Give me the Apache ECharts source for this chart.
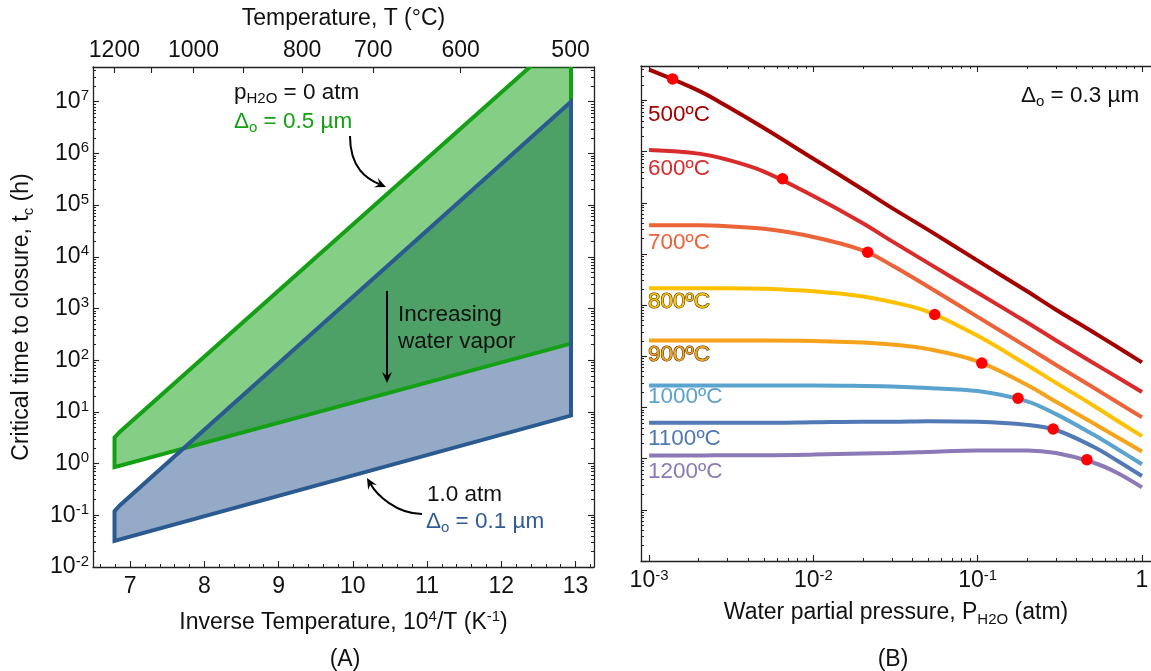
<!DOCTYPE html>
<html><head><meta charset="utf-8">
<script src="https://cdn.jsdelivr.net/npm/echarts@6/dist/echarts.min.js"></script>
<style>html,body{margin:0;padding:0;background:#fff}#c{width:1151px;height:671px}</style>
</head><body><div id="c"></div>
<script>
// ---------------- Panel A data ----------------
const invTempTicks = [7, 8, 9, 10, 11, 12, 13];              // 10^4/T (K^-1)
const tempLabels = [1200, 1000, 800, 700, 600, 500];          // °C (top axis labels)
const tempTicks = [1200, 1100, 1000, 900, 800, 700, 600, 500];
const timeTicks = [1e-2, 1e-1, 1, 1e1, 1e2, 1e3, 1e4, 1e5, 1e6, 1e7];
// region vertices: [10^4/T, t_c (h)]
const dryRegion = [[6.79, 0.85], [6.79, 3.2], [6.86, 4.1], [12.94, 2.4e8], [12.94, 210]];   // pH2O = 0 atm, Δo = 0.5 µm
const wetRegion = [[6.79, 0.032], [6.79, 0.12], [6.86, 0.155], [12.94, 1.0e7], [12.94, 8.5]]; // 1.0 atm, Δo = 0.1 µm

// ---------------- Panel B data ----------------
const pressureTicks = [1e-3, 1e-2, 1e-1, 1];
const pressure = [0.001, 0.002, 0.003, 0.005, 0.01, 0.02, 0.03, 0.05, 0.1, 0.2, 0.3, 0.5, 0.7, 1.0];
const t500 = [3.98e7, 1.55e7, 7.59e6, 2.88e6, 7.24e5, 1.82e5, 7.94e4, 2.95e4, 7.41e3, 1.86e3, 813, 302, 155, 75.9];
const t600 = [1.07e6, 9.12e5, 6.92e5, 4.07e5, 1.35e5, 3.98e4, 1.78e4, 6.61e3, 1.74e3, 457, 204, 75.9, 39.8, 20.0];
const t700 = [3.63e4, 3.63e4, 3.47e4, 3.09e4, 2.14e4, 1.17e4, 6.03e3, 2.29e3, 589, 151, 67.6, 25.1, 12.9, 6.46];
const t800 = [2140, 2140, 2140, 2090, 1860, 1480, 1150, 741, 251, 67.6, 30.2, 11.2, 5.62, 2.75];
const t900 = [204, 204, 204, 204, 200, 186, 170, 138, 79.4, 27.5, 12.9, 5.01, 2.69, 1.38];
const t1000 = [26.9, 26.9, 26.9, 26.9, 26.9, 26.3, 25.7, 24.0, 20.9, 13.2, 7.41, 3.02, 1.58, 0.776];
const t1100 = [5.01, 5.01, 5.01, 5.01, 5.13, 5.25, 5.25, 5.37, 5.25, 4.57, 3.63, 1.74, 0.933, 0.457];
const t1200 = [1.15, 1.15, 1.17, 1.17, 1.20, 1.26, 1.29, 1.35, 1.45, 1.45, 1.29, 0.851, 0.537, 0.275];
const curveNames = ['500ºC', '600ºC', '700ºC', '800ºC', '900ºC', '1000ºC', '1100ºC', '1200ºC'];
const curveTimes = [t500, t600, t700, t800, t900, t1000, t1100, t1200];
const transitionPoints = [[1.39e-3, 2.63e7], [6.49e-3, 2.95e5], [0.0214, 1.08e4], [0.0548, 656],
                          [0.106, 73.6], [0.176, 15.1], [0.288, 3.80], [0.462, 0.955]];

// ---------------- styling ----------------
const FONT = '"Liberation Sans", Arial, Helvetica, sans-serif';
const INK = '#111';
const FS = 23, FSS = 15;
const curveColors = ['#A50000', '#D92B2B', '#EC6339', '#FFC000', '#F7A21B', '#5BA3CF', '#5079B5', '#8C7AB8'];
const Y_MIN = 0.01, Y_MAX = 4.7e7;
const XA_MIN = 6.5, XA_MAX = 13.25;
const XB_MIN = 8.93e-4, XB_MAX = 1.135;

const toInv = T => 1e4 / (T + 273.15);
function logMinor(lo, hi, min, max) {
  const out = [];
  for (let e = lo; e <= hi; e++) for (let k = 2; k <= 9; k++) {
    const v = k * Math.pow(10, e); if (v > min && v < max) out.push(v);
  }
  return out;
}
const invMinor = [];
for (let k = 33; k <= 66; k++) if (k % 5 !== 0) invMinor.push(k / 5);

const tickRich = {
  b: {fontSize: FS, fontFamily: FONT, color: INK, lineHeight: 26},
  s: {fontSize: FSS, fontFamily: FONT, color: INK, lineHeight: 12, verticalAlign: 'top'}
};
const nameRich = {
  n: {fontSize: FS, fontFamily: FONT, color: INK, lineHeight: 28},
  sup: {fontSize: FSS, fontFamily: FONT, color: INK, lineHeight: 12, verticalAlign: 'top'},
  sub: {fontSize: FSS, fontFamily: FONT, color: INK, lineHeight: 12, verticalAlign: 'bottom'}
};
const line = {show: true, lineStyle: {color: '#222', width: 1.3}};
const noLine = {show: false};
function majorTick(vals) { return {show: true, inside: true, length: 6, customValues: vals, lineStyle: {color: '#222', width: 1.1}}; }
function minorTick(vals) { return {show: true, inside: true, length: 3, customValues: vals, lineStyle: {color: '#222', width: 1}}; }
const noLabel = {show: false};

const chart = echarts.init(document.getElementById('c'), null, {renderer: 'canvas'});

const leftYMinor = logMinor(-2, 7, Y_MIN, Y_MAX);
const rightXMinor = logMinor(-4, 0, XB_MIN, XB_MAX);

const option = {
  animation: false,
  backgroundColor: '#fff',
  grid: [
    {left: 93, top: 67, width: 501, height: 500, containLabel: false, outerBoundsMode: 'none'},
    {left: 641, top: 66, width: 510, height: 495, containLabel: false, outerBoundsMode: 'none'}
  ],
  xAxis: [
    {gridIndex: 0, type: 'value', min: XA_MIN, max: XA_MAX, position: 'bottom', axisLine: line,
     axisTick: majorTick(invTempTicks), splitLine: {show: false},
     axisLabel: {customValues: invTempTicks, fontSize: FS, fontFamily: FONT, color: INK, margin: 8},
     name: '{n|Inverse Temperature, 10}{sup|4}{n|/T (K}{sup|-1}{n|)}', nameLocation: 'middle', nameGap: 42,
     nameTextStyle: {rich: nameRich}},
    {gridIndex: 0, type: 'value', min: XA_MIN, max: XA_MAX, position: 'bottom', axisLine: noLine,
     axisTick: minorTick(invMinor), axisLabel: noLabel, splitLine: {show: false}},
    {gridIndex: 0, type: 'value', min: XA_MIN, max: XA_MAX, position: 'top', axisLine: line,
     axisTick: majorTick(tempTicks.map(toInv)), splitLine: {show: false},
     axisLabel: {customValues: tempLabels.map(toInv), formatter: v => String(Math.round(1e4 / v - 273.15)),
                 fontSize: FS, fontFamily: FONT, color: INK, margin: 5},
     name: 'Temperature, T (°C)', nameLocation: 'middle', nameGap: 37,
     nameTextStyle: {fontSize: FS, fontFamily: FONT, color: INK}},
    {gridIndex: 1, type: 'log', min: XB_MIN, max: XB_MAX, position: 'bottom', axisLine: line,
     axisTick: majorTick(pressureTicks), splitLine: {show: false},
     axisLabel: {customValues: pressureTicks, margin: 7, rich: tickRich,
                 formatter: v => Math.abs(v - 1) < 1e-9 ? '{b|1}' : '{b|10}{s|' + Math.round(Math.log10(v)) + '}'},
     name: '{n|Water partial pressure, P}{sub|H2O}{n| (atm)}', nameLocation: 'middle', nameGap: 38,
     nameTextStyle: {rich: nameRich}},
    {gridIndex: 1, type: 'log', min: XB_MIN, max: XB_MAX, position: 'bottom', axisLine: noLine,
     axisTick: minorTick(rightXMinor), axisLabel: noLabel, splitLine: {show: false}},
    {gridIndex: 1, type: 'log', min: XB_MIN, max: XB_MAX, position: 'top', axisLine: line,
     axisTick: majorTick(pressureTicks), axisLabel: noLabel, splitLine: {show: false}},
    {gridIndex: 1, type: 'log', min: XB_MIN, max: XB_MAX, position: 'top', axisLine: noLine,
     axisTick: minorTick(rightXMinor), axisLabel: noLabel, splitLine: {show: false}}
  ],
  yAxis: [
    {gridIndex: 0, type: 'log', min: Y_MIN, max: Y_MAX, position: 'left', axisLine: line,
     axisTick: majorTick(timeTicks), splitLine: {show: false},
     axisLabel: {customValues: timeTicks, margin: 4, rich: tickRich,
                 formatter: v => '{b|10}{s|' + Math.round(Math.log10(v)) + '}'},
     name: '{n|Critical time to closure, t}{sub|c}{n| (h)}', nameLocation: 'middle', nameRotate: 90, nameGap: 57,
     nameTextStyle: {rich: nameRich}},
    {gridIndex: 0, type: 'log', min: Y_MIN, max: Y_MAX, position: 'left', axisLine: noLine,
     axisTick: minorTick(leftYMinor), axisLabel: noLabel, splitLine: {show: false}},
    {gridIndex: 0, type: 'log', min: Y_MIN, max: Y_MAX, position: 'right', axisLine: line,
     axisTick: majorTick(timeTicks), axisLabel: noLabel, splitLine: {show: false}},
    {gridIndex: 0, type: 'log', min: Y_MIN, max: Y_MAX, position: 'right', axisLine: noLine,
     axisTick: minorTick(leftYMinor), axisLabel: noLabel, splitLine: {show: false}},
    {gridIndex: 1, type: 'log', min: Y_MIN, max: Y_MAX, position: 'left', axisLine: line,
     axisTick: majorTick(timeTicks), axisLabel: noLabel, splitLine: {show: false}},
    {gridIndex: 1, type: 'log', min: Y_MIN, max: Y_MAX, position: 'left', axisLine: noLine,
     axisTick: minorTick(leftYMinor), axisLabel: noLabel, splitLine: {show: false}}
  ],
  series: [
    {
      type: 'custom', xAxisIndex: 0, yAxisIndex: 0, data: [[XA_MIN, Y_MIN]], z: 2, silent: true,
      renderItem: function (params, api) {
        const pts = arr => arr.map(p => api.coord(p));
        const cs = params.coordSys;
        return {
          type: 'group',
          clipPath: {type: 'rect', shape: {x: cs.x, y: cs.y, width: cs.width, height: cs.height}},
          children: [
            {type: 'polygon', shape: {points: pts(wetRegion)}, style: {fill: '#94AAC6'}},
            {type: 'polygon', shape: {points: pts(dryRegion)}, style: {fill: 'rgba(0,153,0,0.48)'}},
            {type: 'polygon', shape: {points: pts(dryRegion)}, style: {fill: 'none', stroke: '#14A014', lineWidth: 4, lineJoin: 'miter'}},
            {type: 'polygon', shape: {points: pts(wetRegion)}, style: {fill: 'none', stroke: '#2A5A8F', lineWidth: 4, lineJoin: 'miter'}}
          ]
        };
      }
    }
  ].concat(curveTimes.map((ts, i) => ({
    name: curveNames[i], type: 'line', xAxisIndex: 3, yAxisIndex: 4, smooth: 0.35, symbol: 'none',
    lineStyle: {width: 4, color: curveColors[i]}, z: 3,
    data: pressure.map((p, j) => [p, ts[j]])
  }))).concat([{
    type: 'scatter', xAxisIndex: 3, yAxisIndex: 4, symbolSize: 11.5, z: 5,
    itemStyle: {color: '#FF0000', opacity: 1}, data: transitionPoints
  }]),
  graphic: []
};

// ---------- annotations ----------
const g = option.graphic;
function txt(x, y, text, color) {
  const base = {fontSize: 22.5, fontFamily: FONT, fill: color, lineHeight: 26};
  g.push({type: 'text', x: x, y: y, silent: true, z: 100, style: {
    text: text, verticalAlign: 'middle', align: 'left', fill: color, font: '22.5px ' + FONT,
    rich: {
      n: base,
      sub: {fontSize: FSS, fontFamily: FONT, fill: color, lineHeight: 12, verticalAlign: 'bottom'}
    }
  }});
}
txt(234, 93, '{n|p}{sub|H2O}{n| = 0 atm}', INK);
txt(234, 122, '{n|Δ}{sub|o}{n| = 0.5 µm}', '#14A014');
txt(398, 315, 'Increasing', INK);
txt(398, 342, 'water vapor', INK);
txt(427, 495, '1.0 atm', INK);
txt(426, 522, '{n|Δ}{sub|o}{n| = 0.1 µm}', '#2F5C95');
txt(1021, 96, '{n|Δ}{sub|o}{n| = 0.3 µm}', INK);
const labelY = [115, 169, 243, 302, 355, 397, 439, 472];
curveNames.forEach((n, i) => {
  const outline = (i === 3 || i === 4) ? {stroke: '#3a2800', lineWidth: 1} : {};
  g.push({type: 'text', x: 648, y: labelY[i], silent: true, z: 100,
    style: Object.assign({text: n, fill: curveColors[i], font: '22.5px ' + FONT, verticalAlign: 'middle'}, outline)});
});
g.push({type: 'text', x: 345, y: 660, style: {text: '(A)', fill: INK, font: FS + 'px ' + FONT, align: 'center', verticalAlign: 'middle'}});
g.push({type: 'text', x: 893, y: 660, style: {text: '(B)', fill: INK, font: FS + 'px ' + FONT, align: 'center', verticalAlign: 'middle'}});

function arrowHead(tip, d) {
  const nx = -d[1], ny = d[0];
  const notch = [tip[0] - 7 * d[0], tip[1] - 7 * d[1]];
  const bc = [tip[0] - 11 * d[0], tip[1] - 11 * d[1]];
  g.push({type: 'polygon', silent: true, z: 100, shape: {points: [tip, [bc[0] + 5 * nx, bc[1] + 5 * ny], notch, [bc[0] - 5 * nx, bc[1] - 5 * ny]]},
    style: {fill: '#000'}});
  return notch;
}
// arrow 1 (dry boundary)
(function () {
  const d = [0.92, 0.39]; const n = arrowHead([386, 187], d);
  g.push({type: 'bezierCurve', silent: true, z: 100, shape: {x1: 350, y1: 136, cpx1: 350, cpy1: 168, cpx2: n[0] - 14 * d[0], cpy2: n[1] - 14 * d[1], x2: n[0], y2: n[1]},
    style: {stroke: '#000', lineWidth: 2, fill: 'none'}});
})();
// arrow 2 (increasing water vapor)
(function () {
  const n = arrowHead([387, 383], [0, 1]);
  g.push({type: 'line', silent: true, z: 100, shape: {x1: 387, y1: 291, x2: n[0], y2: n[1]}, style: {stroke: '#000', lineWidth: 2}});
})();
// arrow 3 (wet boundary)
(function () {
  const d = [-0.5, -0.866]; const n = arrowHead([367, 478], d);
  g.push({type: 'bezierCurve', silent: true, z: 100, shape: {x1: 422, y1: 514, cpx1: 396, cpy1: 514, cpx2: n[0] - 12 * d[0], cpy2: n[1] - 12 * d[1], x2: n[0], y2: n[1]},
    style: {stroke: '#000', lineWidth: 2, fill: 'none'}});
})();

chart.setOption(option);
</script>
</body></html>
